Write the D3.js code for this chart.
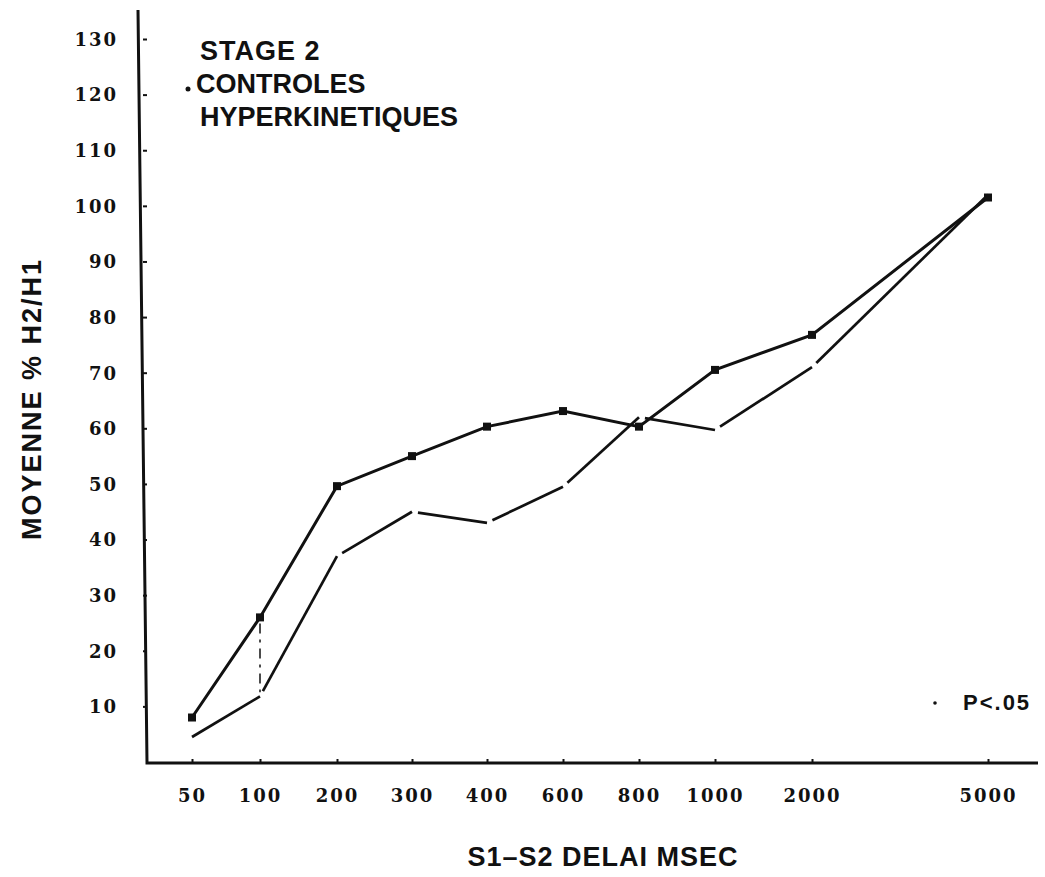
<html>
<head>
  <title>Stage 2 - H2/H1</title>
  <script src="https://d3js.org/d3.v7.min.js"></script>
  <style>
    body { margin: 0; background: #fff; }
    .tick text { font-family: "DejaVu Serif", serif; font-weight: bold; font-size: 18px; letter-spacing: 2px; fill: #111; }
    .title { font-family: "Liberation Sans", Arial, sans-serif; font-weight: bold; font-size: 27px; fill: #111; }
  </style>
</head>
<body>
  <script>
    // delays (msec) and the two curves
    var delays = [50, 100, 200, 300, 400, 600, 800, 1000, 2000, 5000];
    var controles = [8, 26, 49.6, 55, 60.3, 63.1, 60.3, 70.5, 76.8, 101.5];
    var hyperkinetiques = [4.5, 11.8, 37, 45, 43, 49.5, 62, 59.7, 71, 102];
    var yTicks = [10, 20, 30, 40, 50, 60, 70, 80, 90, 100, 110, 120, 130];

    var width = 1045, height = 877;
    // the x axis is not evenly spaced on the original, so map each delay to its spot
    var xStops = [192, 260, 337, 412, 487, 563, 639, 715, 812, 988];

    var svg = d3.select("body").append("svg")
      .attr("width", width)
      .attr("height", height);

    var x = d3.scaleLinear().domain(delays).range(xStops);
    var y = d3.scaleLinear().domain([0, 130]).range([762, 39]);

    // axes
    svg.append("path")
      .attr("d", "M138,10 L147,763 L1038,763")
      .attr("fill", "none")
      .attr("stroke", "#111")
      .attr("stroke-width", 3);

    var yAxis = svg.append("g")
      .attr("transform", "translate(143,0)")
      .call(d3.axisRight(y).tickValues(yTicks).tickSize(4).tickFormat(d3.format("d")));
    yAxis.select(".domain").remove();
    yAxis.selectAll(".tick line").attr("stroke", "#111").attr("stroke-width", 2);
    yAxis.selectAll(".tick text").attr("x", -25).attr("text-anchor", "end").attr("dy", "0.35em");

    var xAxis = svg.append("g")
      .attr("transform", "translate(0,762)")
      .call(d3.axisTop(x).tickValues(delays).tickSize(3).tickFormat(d3.format("d")));
    xAxis.select(".domain").remove();
    xAxis.selectAll(".tick line").attr("stroke", "#111").attr("stroke-width", 2);
    xAxis.selectAll(".tick text").attr("y", 40).attr("dy", 0);

    var line = d3.line()
      .x(function(d, i) { return x(delays[i]); })
      .y(function(d) { return y(d); });

    // controles: solid line with square markers
    svg.append("path")
      .datum(controles)
      .attr("d", line)
      .attr("fill", "none")
      .attr("stroke", "#111")
      .attr("stroke-width", 3);

    svg.selectAll(".mark")
      .data(controles)
      .enter().append("rect")
      .attr("class", "mark")
      .attr("x", function(d, i) { return x(delays[i]) - 4; })
      .attr("y", function(d) { return y(d) - 4; })
      .attr("width", 8)
      .attr("height", 8)
      .attr("fill", "#111");

    // hyperkinetiques: hand drawn segments, small gap at the start of each one
    var segs = d3.pairs(hyperkinetiques.map(function(v, i) { return [x(delays[i]), y(v)]; }));
    svg.selectAll(".seg")
      .data(segs)
      .enter().append("line")
      .attr("class", "seg")
      .attr("x1", function(s, i) {
        var dx = s[1][0] - s[0][0], dy = s[1][1] - s[0][1], len = Math.sqrt(dx * dx + dy * dy);
        return s[0][0] + (i == 0 ? 0 : 6 * dx / len);
      })
      .attr("y1", function(s, i) {
        var dx = s[1][0] - s[0][0], dy = s[1][1] - s[0][1], len = Math.sqrt(dx * dx + dy * dy);
        return s[0][1] + (i == 0 ? 0 : 6 * dy / len);
      })
      .attr("x2", function(s) { return s[1][0]; })
      .attr("y2", function(s) { return s[1][1]; })
      .attr("stroke", "#111")
      .attr("stroke-width", 2.7);

    // dash-dot link at 100 msec
    svg.append("line")
      .attr("x1", x(100)).attr("x2", x(100))
      .attr("y1", y(controles[1]) + 6).attr("y2", y(hyperkinetiques[1]) - 4)
      .attr("stroke", "#111")
      .attr("stroke-width", 1.5)
      .attr("stroke-dasharray", "10,6,3,6");

    // texts
    svg.append("text").attr("class", "title").attr("x", 200).attr("y", 60)
      .attr("letter-spacing", "1px").text("STAGE 2");
    svg.append("circle").attr("cx", 188).attr("cy", 89).attr("r", 2.5).attr("fill", "#111");
    svg.append("text").attr("class", "title").attr("x", 196).attr("y", 93).text("CONTROLES");
    svg.append("text").attr("class", "title").attr("x", 200).attr("y", 126).text("HYPERKINETIQUES");

    svg.append("text").attr("class", "title")
      .attr("transform", "translate(41,399) rotate(-90)")
      .attr("text-anchor", "middle")
      .attr("letter-spacing", "2px")
      .text("MOYENNE % H2/H1");

    svg.append("text").attr("class", "title")
      .attr("x", 603).attr("y", 866)
      .attr("text-anchor", "middle")
      .attr("letter-spacing", "1px")
      .text("S1\u2013S2 DELAI MSEC");

    svg.append("circle").attr("cx", 935).attr("cy", 703).attr("r", 1.8).attr("fill", "#111");
    svg.append("text").attr("class", "title")
      .attr("x", 963).attr("y", 710)
      .attr("letter-spacing", "2px")
      .style("font-size", "22px")
      .text("P<.05");
  </script>
</body>
</html>
